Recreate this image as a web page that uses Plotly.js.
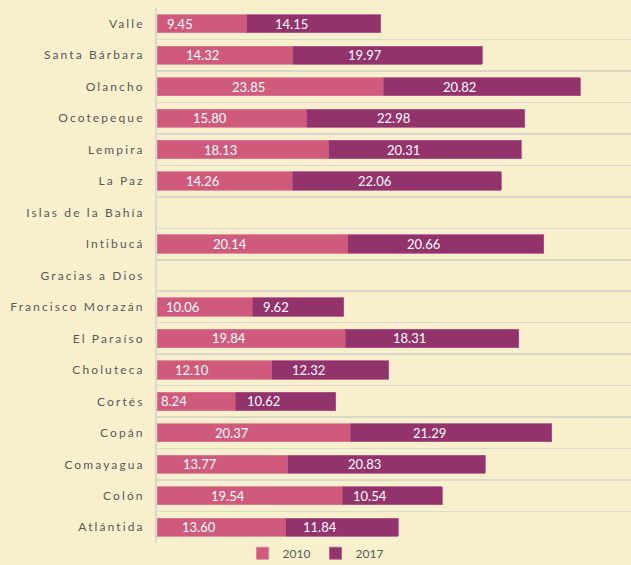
<!DOCTYPE html>
<html>
<head>
<meta charset="utf-8">
<script src="https://cdn.plot.ly/plotly-3.0.1.min.js"></script>
<style>
html, body { margin: 0; padding: 0; background: #F8F0CD; }
#chart { width: 631px; height: 565px; }
.ytick text { letter-spacing: 2.1px; }
</style>
</head>
<body>
<div id="chart"></div>
<script>
const categories = ["Valle", "Santa Bárbara", "Olancho", "Ocotepeque", "Lempira", "La Paz",
  "Islas de la Bahía", "Intibucá", "Gracias a Dios", "Francisco Morazán", "El Paraíso",
  "Choluteca", "Cortés", "Copán", "Comayagua", "Colón", "Atlántida"];
const values2010 = [9.45, 14.32, 23.85, 15.80, 18.13, 14.26, null, 20.14, null, 10.06, 19.84,
  12.10, 8.24, 20.37, 13.77, 19.54, 13.60];
const values2017 = [14.15, 19.97, 20.82, 22.98, 20.31, 22.06, null, 20.66, null, 9.62, 18.31,
  12.32, 10.62, 21.29, 20.83, 10.54, 11.84];
const seriesNames = ["2010", "2017"];

const col2010 = "#CF5A7C";
const col2017 = "#93336C";

const traces = [
  { type: "bar", orientation: "h", name: seriesNames[0], y: categories, x: values2010,
    marker: { color: col2010, line: { color: "#DB7C98", width: 0.8 } }, hoverinfo: "x+y" },
  { type: "bar", orientation: "h", name: seriesNames[1], y: categories, x: values2017,
    marker: { color: col2017, line: { color: "#B0588C", width: 0.8 } }, hoverinfo: "x+y" }
];

const annotations = [];
categories.forEach((c, i) => {
  const a = values2010[i], b = values2017[i];
  if (a != null) {
    annotations.push({ x: a / 2, y: c, xref: "x", yref: "y", text: a.toFixed(2),
      showarrow: false, xshift: -22, font: { color: "#FFFFFF", size: 13, family: "Lato, sans-serif" } });
  }
  if (b != null) {
    annotations.push({ x: (a || 0) + b / 2, y: c, xref: "x", yref: "y", text: b.toFixed(2),
      showarrow: false, xshift: -22, font: { color: "#FFFFFF", size: 13, family: "Lato, sans-serif" } });
  }
});

const layout = {
  width: 631, height: 565,
  margin: { l: 157, r: 0, t: 8, b: 22, autoexpand: false },
  paper_bgcolor: "#F8F0CD",
  plot_bgcolor: "#F8F0CD",
  barmode: "stack",
  bargap: 0.42,
  font: { family: "Lato, sans-serif", color: "#595959", size: 12 },
  xaxis: { range: [0, 50], showgrid: false, zeroline: false, showticklabels: false, ticks: "", fixedrange: true },
  yaxis: { type: "category", autorange: "reversed", tickson: "boundaries", showgrid: true,
    gridcolor: "#DAD8CE", gridwidth: 1.5, showline: true, linecolor: "#DAD8CE", linewidth: 2,
    ticks: "", ticklabelstandoff: 8, tickfont: { size: 12, color: "#595959", family: "Lato, sans-serif" } },
  showlegend: true,
  legend: { orientation: "h", xref: "container", yref: "paper", x: 0.5, xanchor: "center",
    y: 0.008, yanchor: "top", traceorder: "normal", font: { size: 12, color: "#595959" },
    bgcolor: "rgba(0,0,0,0)", itemwidth: 30, entrywidth: 28 },
  annotations: annotations
};

Plotly.newPlot("chart", traces, layout, { displayModeBar: false, staticPlot: true });
</script>
</body>
</html>
